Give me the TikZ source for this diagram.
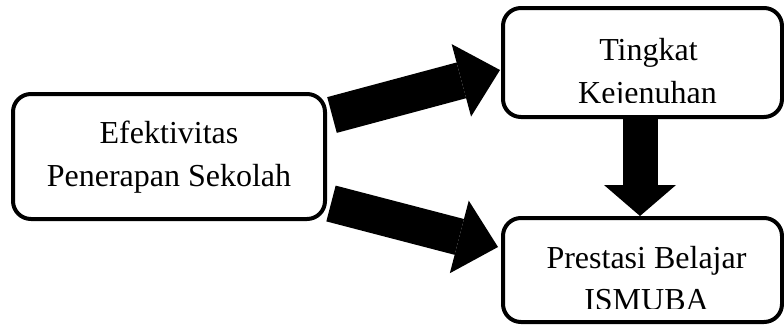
\documentclass[tikz,border=0pt]{standalone}
\usepackage{fontspec}
\setmainfont{Liberation Serif}
\usetikzlibrary{arrows.meta,calc}
\begin{document}
\begin{tikzpicture}[x=1pt,y=-1pt,
  box/.style={draw=black,line width=4pt,rounded corners=18pt,fill=white,inner sep=0pt},
  txt/.style={anchor=base,inner sep=0pt,font=\fontsize{32}{43}\selectfont},
  bigarrow/.style={line width=37pt,-{Triangle[width=75pt,length=40pt,line width=0pt]}},
  downarrow/.style={line width=35pt,-{Triangle[width=72pt,length=31pt,line width=0pt]}}]
\useasboundingbox (0,0) rectangle (784,324);
\node[box,minimum width=312pt,minimum height=125pt] (e) at (169,156.5) {};
\node[box,minimum width=279pt,minimum height=109pt] (t) at (642.5,62.5) {};
\node[box,minimum width=279pt,minimum height=104pt] (p) at (642.5,270) {};
\node[txt] (e1) at ($(e.center)+(0,-13.5)$) {Efektivitas};
\node[txt] (e2) at ($(e.center)+(0,29.5)$) {Penerapan Sekolah};
\begin{scope}
\clip (t.north west) rectangle ($(t.south east)+(0,-17)$);
\node[txt] (t1) at ($(t.center)+(6,-2.5)$) {Tingkat};
\node[txt] (t2) at ($(t.center)+(5,40.5)$) {Kejenuhan};
\end{scope}
\begin{scope}
\clip (p.north west) rectangle ($(p.south east)+(0,-16)$);
\node[txt] (p1) at ($(p.center)+(4,-2)$) {Prestasi Belajar};
\node[txt] (p2) at ($(p.center)+(4,40)$) {ISMUBA};
\end{scope}
\coordinate (s1) at ($(e.east)+(5,-41.5)$);
\coordinate (s2) at ($(e.east)+(4,47)$);
\draw[bigarrow] (s1) -- ($(t.west)+(-1,7.5)$);
\draw[bigarrow] (s2) -- ($(p.west)+(-3,-23)$);
\draw[downarrow] ($(t.south)+(-2.5,0)$) -- ($(p.north)+(-2.5,0)$);
\end{tikzpicture}
\end{document}
